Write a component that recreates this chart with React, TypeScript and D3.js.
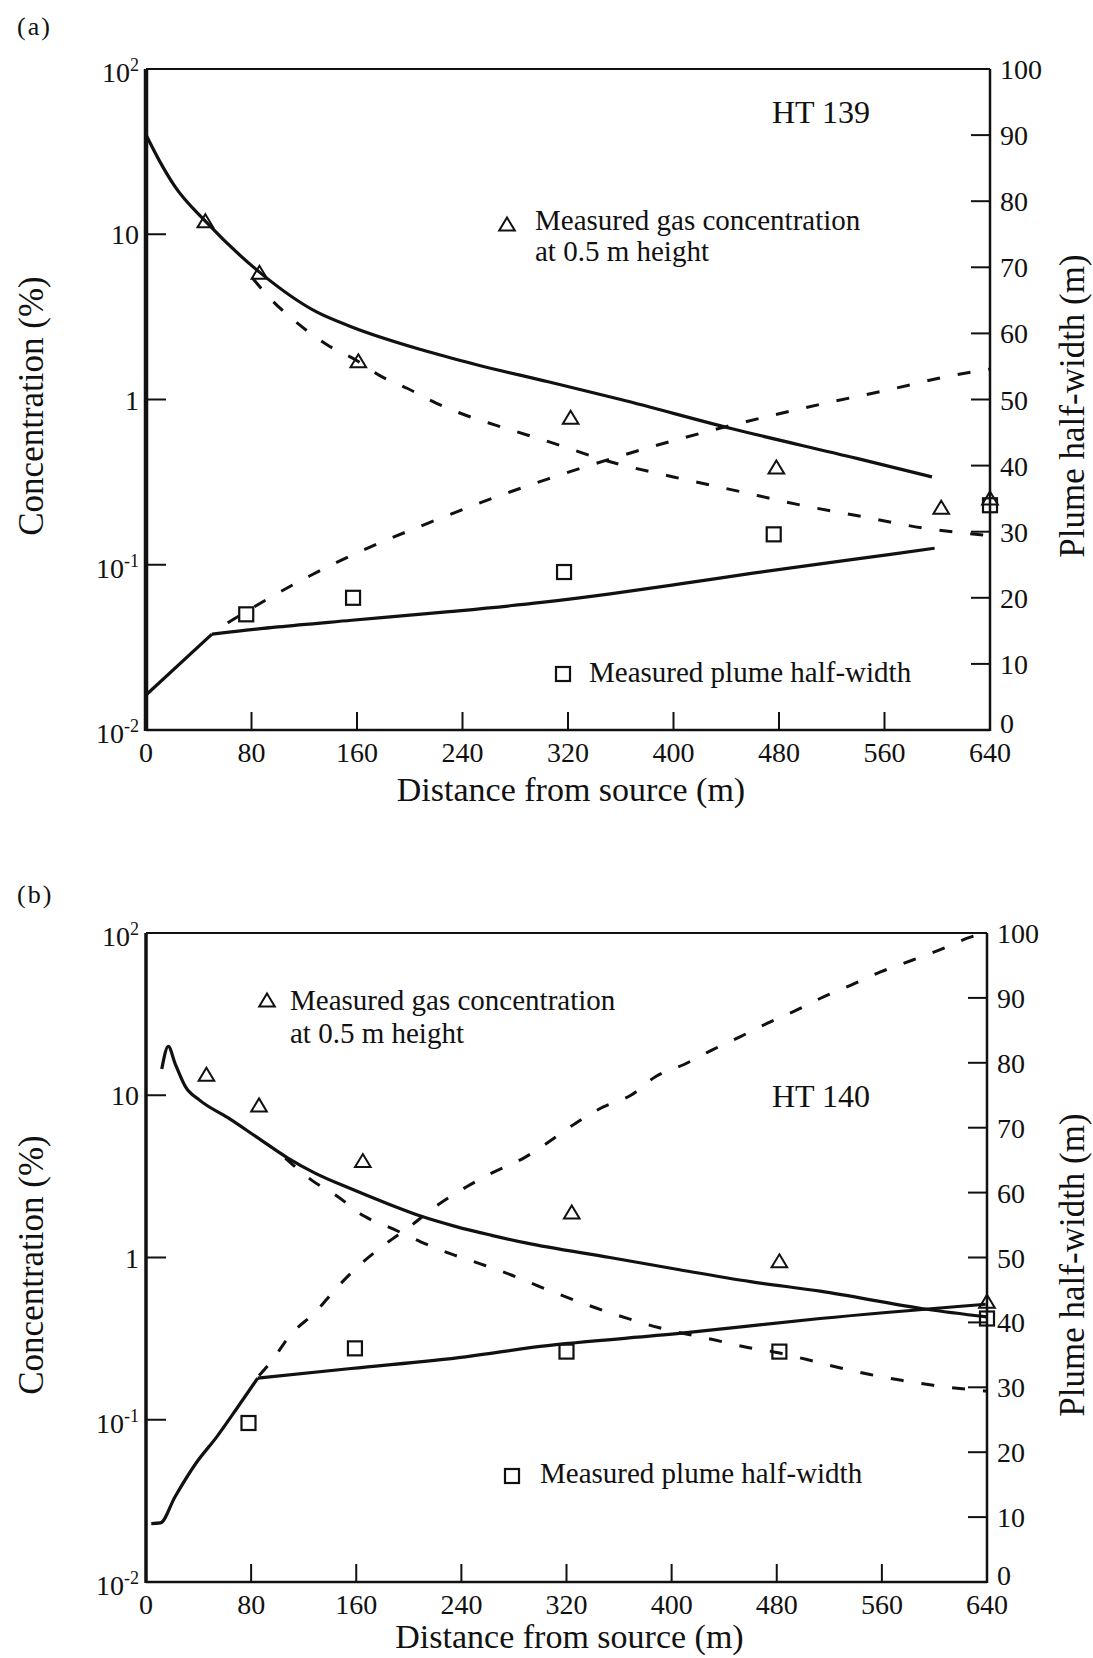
import React from "react";
import * as d3 from "d3";

type Pt = [number, number];

// ---- shared axes ----
const distanceTicks = [0, 80, 160, 240, 320, 400, 480, 560, 640];
const widthTicks = [0, 10, 20, 30, 40, 50, 60, 70, 80, 90, 100];
const concTicks: { v: number; base: string; exp?: string }[] = [
  { v: 100, base: "10", exp: "2" },
  { v: 10, base: "10" },
  { v: 1, base: "1" },
  { v: 0.1, base: "10", exp: "-1" },
  { v: 0.01, base: "10", exp: "-2" },
];

const concLegend = ["Measured gas concentration", "at 0.5 m height"];
const widthLegend = "Measured plume half-width";
const xTitle = "Distance from source (m)";
const yTitle = "Concentration (%)";
const y2Title = "Plume half-width (m)";

// ---- HT 139 ----
const concModelA: Pt[] = [
  [0, 40], [10, 28], [22, 19.4], [45, 12], [86, 5.9], [129, 3.4], [156, 2.75],
  [209, 2.0], [250, 1.63], [305, 1.28], [360, 1.0], [443, 0.67], [539, 0.44], [596, 0.34],
];
const concDilutedA: Pt[] = [
  [81, 5.4], [94, 4.1], [116, 2.85], [137, 2.15], [161, 1.7], [177, 1.4], [198, 1.17],
  [220, 0.95], [243, 0.8], [265, 0.7], [289, 0.61], [307, 0.55], [352, 0.42], [400, 0.34],
  [448, 0.28], [496, 0.23], [544, 0.195], [589, 0.167], [640, 0.15],
];
const widthRiseA: Pt[] = [[0, 5.3], [50, 14.5]];
const widthModelA: Pt[] = [
  [50, 14.5], [100, 15.6], [156, 16.6], [230, 17.9], [300, 19.3], [352, 20.6],
  [405, 22.1], [459, 23.7], [510, 25.1], [566, 26.6], [598, 27.5],
];
const widthDilutedA: Pt[] = [
  [62, 16.2], [92, 19.8], [124, 23.3], [169, 27.6], [214, 31.3], [262, 35.0], [305, 38.0],
  [374, 42.3], [440, 45.9], [512, 49.3], [566, 51.6], [608, 53.5], [640, 54.6],
];
const concMeasuredA: Pt[] = [
  [45, 11.9], [86, 5.8], [161, 1.69], [322, 0.77], [478, 0.385], [603, 0.22], [640, 0.25],
];
const widthMeasuredA: Pt[] = [[76, 17.5], [157, 20], [317, 23.9], [476, 29.6], [640, 34]];

// ---- HT 140 ----
const concModelB: Pt[] = [
  [12, 14.5], [17, 20], [22, 15.8], [30, 11.3], [41, 9.3], [62, 7.3], [86, 5.4], [108, 4.1],
  [129, 3.3], [156, 2.65], [183, 2.16], [209, 1.8], [236, 1.55], [263, 1.37], [289, 1.23],
  [353, 1.0], [406, 0.84], [460, 0.71], [513, 0.62], [594, 0.48], [640, 0.43],
];
const concDilutedB: Pt[] = [
  [106, 4.1], [126, 3.0], [145, 2.4], [166, 1.8], [188, 1.5], [209, 1.25], [231, 1.06],
  [255, 0.91], [278, 0.78], [300, 0.66], [320, 0.57], [342, 0.49], [367, 0.42], [390, 0.37],
  [433, 0.31], [457, 0.28], [480, 0.26], [503, 0.235], [527, 0.21], [551, 0.19], [575, 0.175],
  [599, 0.163], [640, 0.15],
];
const widthRiseB: Pt[] = [[4, 9.0], [11, 9.1], [22, 13.1], [38, 18.3], [54, 22.4], [70, 27.0], [85, 31.4]];
const widthModelB: Pt[] = [
  [85, 31.4], [156, 32.9], [243, 34.7], [300, 36.3], [406, 38.3], [513, 40.6], [639, 42.8],
];
const widthDilutedB: Pt[] = [
  [86, 31.8], [95, 33.9], [110, 38.1], [129, 41.6], [145, 45.3], [164, 49.1], [183, 52.2],
  [199, 54.5], [220, 57.8], [244, 60.9], [263, 63], [289, 65.5], [305, 67.6], [327, 70.7],
  [348, 73.2], [369, 75], [388, 77.9], [409, 79.7], [431, 82], [452, 84], [473, 86.1],
  [495, 88.1], [516, 90.2], [537, 92], [559, 94], [583, 95.8], [604, 97.4], [628, 99.4], [640, 100],
];
const concMeasuredB: Pt[] = [[46, 13.3], [86, 8.6], [165, 3.9], [324, 1.88], [482, 0.94], [640, 0.53]];
const widthMeasuredB: Pt[] = [[78, 24.5], [159, 36], [320, 35.5], [482, 35.5], [640, 40.6]];

const FONT = '"Liberation Serif", "Times New Roman", serif';
const INK = "#111";

type Box = { left: number; right: number; top: number; bottom: number };
type Layout = {
  box: Box;
  tag: string; tagY: number;
  run: string; runX: number; runY: number;
  concKey: { mx: number; my: number; tx: number; y1: number; y2: number };
  widthKey: { mx: number; my: number; tx: number; y: number };
  xTitleY: number; yTitleCy: number; leftAxisW: number;
};

type Series = {
  concModel: Pt[]; concDiluted: Pt[]; widthRise: Pt[]; widthModel: Pt[]; widthDiluted: Pt[];
  concMeasured: Pt[]; widthMeasured: Pt[];
};

const triPath = "M0,-7.5L7.8,5.5L-7.8,5.5Z";

function Tri({ x, y }: { x: number; y: number }) {
  return <path d={triPath} transform={`translate(${x},${y})`} fill="none" stroke={INK} strokeWidth={2} />;
}
function Sq({ x, y }: { x: number; y: number }) {
  return <rect x={x - 7} y={y - 7} width={14} height={14} fill="none" stroke={INK} strokeWidth={2.2} />;
}

function Panel({ L, S }: { L: Layout; S: Series }) {
  const { box } = L;
  const x = d3.scaleLinear().domain([0, 640]).range([box.left, box.right]);
  const yc = d3.scaleLog().domain([0.01, 100]).range([box.bottom, box.top]);
  const yw = d3.scaleLinear().domain([0, 100]).range([box.bottom, box.top]);
  const concLine = d3.line<Pt>().x((d) => x(d[0])).y((d) => yc(d[1])).curve(d3.curveMonotoneX);
  const widthLine = d3.line<Pt>().x((d) => x(d[0])).y((d) => yw(d[1])).curve(d3.curveMonotoneX);
  const solid = { fill: "none", stroke: INK, strokeWidth: 3.2, strokeLinejoin: "round" as const };
  const dashed = { ...solid, strokeWidth: 3, strokeDasharray: "13 18" };
  const cx = (box.left + box.right) / 2 + 3;
  const cy = L.yTitleCy;

  return (
    <g fontFamily={FONT} fill={INK}>
      <text x={17} y={L.tagY} fontSize={26} letterSpacing={2}>{L.tag}</text>

      {/* frame */}
      <line x1={box.left} x2={box.right} y1={box.top} y2={box.top} stroke={INK} strokeWidth={2} />
      <line x1={box.left} x2={box.right} y1={box.bottom} y2={box.bottom} stroke={INK} strokeWidth={2.5} />
      <line x1={box.left} x2={box.left} y1={box.top} y2={box.bottom + 1} stroke={INK} strokeWidth={L.leftAxisW} />
      <line x1={box.right} x2={box.right} y1={box.top} y2={box.bottom + 1} stroke={INK} strokeWidth={2.5} />

      {/* distance axis */}
      {distanceTicks.map((t) => (
        <g key={"x" + t}>
          <line x1={x(t)} x2={x(t)} y1={box.bottom} y2={box.bottom - 18} stroke={INK} strokeWidth={2} />
          <text x={x(t)} y={box.bottom + 32} fontSize={28} textAnchor="middle">{t}</text>
        </g>
      ))}
      <text x={cx} y={L.xTitleY} fontSize={34} textAnchor="middle">{xTitle}</text>

      {/* concentration axis */}
      {concTicks.map((t) => (
        <g key={"c" + t.v}>
          <line x1={box.left} x2={box.left + 20} y1={yc(t.v)} y2={yc(t.v)} stroke={INK} strokeWidth={2} />
          <text x={box.left - 7} y={yc(t.v) + (t.exp ? 13 : 10)} fontSize={28} textAnchor="end">
            {t.base}
            {t.exp && <tspan dy={-11} fontSize={18}>{t.exp}</tspan>}
          </text>
        </g>
      ))}
      <text transform={`translate(43,${cy}) rotate(-90)`} fontSize={35} textAnchor="middle">{yTitle}</text>

      {/* half-width axis */}
      {widthTicks.map((t) => (
        <g key={"w" + t}>
          <line x1={box.right - 19} x2={box.right} y1={yw(t)} y2={yw(t)} stroke={INK} strokeWidth={2} />
          <text x={box.right + 10} y={yw(t) + (t === 0 ? 3 : 10)} fontSize={28}>{t}</text>
        </g>
      ))}
      <text transform={`translate(1084,${cy}) rotate(-90)`} fontSize={35} textAnchor="middle">{y2Title}</text>

      {/* model curves */}
      <path d={concLine(S.concModel) ?? ""} {...solid} />
      <path d={concLine(S.concDiluted) ?? ""} {...dashed} />
      <path d={widthLine(S.widthRise) ?? ""} {...solid} />
      <path d={widthLine(S.widthModel) ?? ""} {...solid} />
      <path d={widthLine(S.widthDiluted) ?? ""} {...dashed} />

      {/* measurements */}
      {S.concMeasured.map((d, i) => <Tri key={"t" + i} x={x(d[0])} y={yc(d[1])} />)}
      {S.widthMeasured.map((d, i) => <Sq key={"s" + i} x={x(d[0])} y={yw(d[1])} />)}

      {/* labels */}
      <text x={L.runX} y={L.runY} fontSize={32} textAnchor="middle">{L.run}</text>
      <Tri x={L.concKey.mx} y={L.concKey.my} />
      <text x={L.concKey.tx} y={L.concKey.y1} fontSize={29}>{concLegend[0]}</text>
      <text x={L.concKey.tx} y={L.concKey.y2} fontSize={29}>{concLegend[1]}</text>
      <Sq x={L.widthKey.mx} y={L.widthKey.my} />
      <text x={L.widthKey.tx} y={L.widthKey.y} fontSize={29}>{widthLegend}</text>
    </g>
  );
}

const layoutA: Layout = {
  box: { left: 146, right: 990, top: 69, bottom: 730 },
  tag: "(a)", tagY: 35,
  run: "HT 139", runX: 821, runY: 123,
  concKey: { mx: 507, my: 225, tx: 535, y1: 230, y2: 261 },
  widthKey: { mx: 563, my: 674, tx: 589, y: 682 },
  xTitleY: 801, yTitleCy: 406, leftAxisW: 4.5,
};
const layoutB: Layout = {
  box: { left: 146, right: 987, top: 933, bottom: 1582 },
  tag: "(b)", tagY: 903,
  run: "HT 140", runX: 821, runY: 1107,
  concKey: { mx: 267, my: 1001, tx: 290, y1: 1010, y2: 1043 },
  widthKey: { mx: 512, my: 1476, tx: 540, y: 1483 },
  xTitleY: 1648, yTitleCy: 1265, leftAxisW: 3.5,
};

export default function App() {
  return (
    <>
      <style>{`body{margin:0;background:#fff}`}</style>
      <svg width={1093} height={1658} viewBox="0 0 1093 1658" style={{ display: "block", background: "#fff" }}>
        <Panel
          L={layoutA}
          S={{
            concModel: concModelA, concDiluted: concDilutedA, widthRise: widthRiseA,
            widthModel: widthModelA, widthDiluted: widthDilutedA,
            concMeasured: concMeasuredA, widthMeasured: widthMeasuredA,
          }}
        />
        <Panel
          L={layoutB}
          S={{
            concModel: concModelB, concDiluted: concDilutedB, widthRise: widthRiseB,
            widthModel: widthModelB, widthDiluted: widthDilutedB,
            concMeasured: concMeasuredB, widthMeasured: widthMeasuredB,
          }}
        />
      </svg>
    </>
  );
}
